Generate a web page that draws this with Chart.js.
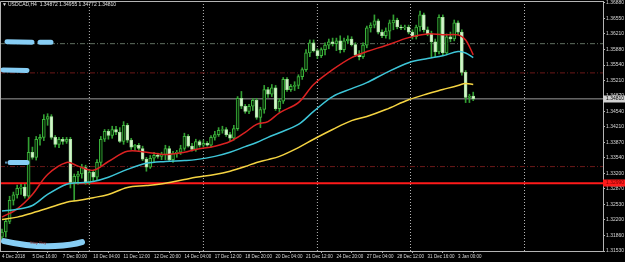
<!DOCTYPE html>
<html>
<head>
<meta charset="utf-8">
<script src="https://cdn.jsdelivr.net/npm/chart.js@4.4.1/dist/chart.umd.min.js"></script>
<style>
html, body { margin: 0; padding: 0; background: #000; }
#wrap { width: 625px; height: 262px; }
</style>
</head>
<body>
<div id="wrap"><canvas id="chart" width="625" height="262"></canvas></div>
<script>
// USDCAD H4
const symbolTitle = "USDCAD,H4  1.34872 1.34955 1.34772 1.34810";

const timeTickIdx = [0, 8, 16, 24, 32, 40, 48, 56, 64, 72, 80, 88, 96, 104, 112, 120];
const timeLabels = ["4 Dec 2018", "5 Dec 16:00", "7 Dec 00:00", "10 Dec 04:00", "11 Dec 12:00",
    "12 Dec 20:00", "14 Dec 04:00", "17 Dec 12:00", "18 Dec 20:00", "20 Dec 04:00", "21 Dec 12:00",
    "24 Dec 20:00", "27 Dec 04:00", "28 Dec 12:00", "31 Dec 16:00", "3 Jan 00:00"];

const priceTicks = [1.36880, 1.36550, 1.36210, 1.35880, 1.35540, 1.35210, 1.34870, 1.34540, 1.34210,
    1.33870, 1.33540, 1.33200, 1.32870, 1.32530, 1.32200, 1.31860, 1.31530];

const openP = [
    1.3183, 1.3194, 1.3217, 1.3262, 1.3274, 1.3288, 1.3291, 1.3271, 1.3366, 1.3355,
    1.3394, 1.3398, 1.3437, 1.3443, 1.3398, 1.3383, 1.3394, 1.3389, 1.3394, 1.3301,
    1.3314, 1.3319, 1.3333, 1.3301, 1.3323, 1.3312, 1.3344, 1.3394, 1.3411, 1.3402,
    1.3415, 1.3409, 1.3389, 1.3424, 1.3392, 1.3377, 1.3381, 1.3374, 1.3351, 1.3334,
    1.3353, 1.3359, 1.3357, 1.3361, 1.3374, 1.3350, 1.3364, 1.3366, 1.3374, 1.3400,
    1.3379, 1.3372, 1.3389, 1.3381, 1.3385, 1.3381, 1.3398, 1.3404, 1.3413, 1.3415,
    1.3404, 1.3396, 1.3417, 1.3482, 1.3465, 1.3454, 1.3465, 1.3478, 1.3441, 1.3458,
    1.3501, 1.3491, 1.3505, 1.3460, 1.3476, 1.3523, 1.3501, 1.3508, 1.3510, 1.3529,
    1.3544, 1.3580, 1.3602, 1.3585, 1.3574, 1.3587, 1.3597, 1.3604, 1.3600, 1.3606,
    1.3587, 1.3606, 1.3610, 1.3598, 1.3576, 1.3572, 1.3597, 1.3634, 1.3640, 1.3649,
    1.3625, 1.3617, 1.3627, 1.3645, 1.3651, 1.3636, 1.3634, 1.3636, 1.3625, 1.3615,
    1.3636, 1.3662, 1.3630, 1.3621, 1.3604, 1.3582, 1.3657, 1.3580, 1.3615, 1.3610,
    1.3645, 1.3625, 1.3538, 1.3484, 1.34872
];
const highP = [
    1.3200, 1.3222, 1.3271, 1.3280, 1.3295, 1.3297, 1.3297, 1.3398, 1.3377, 1.3400,
    1.3404, 1.3447, 1.3449, 1.3447, 1.3402, 1.3398, 1.3398, 1.3398, 1.3398, 1.3319,
    1.3325, 1.3340, 1.3338, 1.3327, 1.3327, 1.3350, 1.3400, 1.3415, 1.3415, 1.3422,
    1.3422, 1.3419, 1.3432, 1.3428, 1.3396, 1.3383, 1.3385, 1.3379, 1.3355, 1.3359,
    1.3366, 1.3364, 1.3366, 1.3381, 1.3379, 1.3368, 1.3370, 1.3381, 1.3407, 1.3404,
    1.3385, 1.3394, 1.3392, 1.3392, 1.3389, 1.3402, 1.3411, 1.3419, 1.3422, 1.3419,
    1.3409, 1.3424, 1.3486, 1.3497, 1.3469, 1.3469, 1.3482, 1.3482, 1.3463, 1.3510,
    1.3506, 1.3512, 1.3510, 1.3482, 1.3527, 1.3527, 1.3512, 1.3518, 1.3533, 1.3548,
    1.3587, 1.3608, 1.3608, 1.3589, 1.3591, 1.3602, 1.3610, 1.3612, 1.3612, 1.3617,
    1.3612, 1.3617, 1.3615, 1.3602, 1.3585, 1.3602, 1.3638, 1.3645, 1.3662, 1.3653,
    1.3630, 1.3634, 1.3651, 1.3662, 1.3655, 1.3640, 1.3640, 1.3640, 1.3630, 1.3640,
    1.3670, 1.3666, 1.3636, 1.3627, 1.3610, 1.3662, 1.3662, 1.3621, 1.3625, 1.3651,
    1.3649, 1.3630, 1.3542, 1.3491, 1.34955
];
const lowP = [
    1.3176, 1.3183, 1.3212, 1.3252, 1.3267, 1.3275, 1.3267, 1.3267, 1.3351, 1.3349,
    1.3381, 1.3391, 1.3424, 1.3394, 1.3377, 1.3376, 1.3383, 1.3385, 1.3289, 1.3261,
    1.3297, 1.3310, 1.3297, 1.3297, 1.3303, 1.3306, 1.3336, 1.3389, 1.3394, 1.3396,
    1.3404, 1.3387, 1.3383, 1.3387, 1.3372, 1.3370, 1.3370, 1.3348, 1.3325, 1.3331,
    1.3345, 1.3353, 1.3350, 1.3350, 1.3346, 1.3344, 1.3355, 1.3361, 1.3370, 1.3377,
    1.3368, 1.3368, 1.3377, 1.3377, 1.3379, 1.3377, 1.3392, 1.3400, 1.3407, 1.3400,
    1.3391, 1.3392, 1.3413, 1.3460, 1.3450, 1.3449, 1.3456, 1.3437, 1.3419, 1.3450,
    1.3484, 1.3486, 1.3456, 1.3452, 1.3471, 1.3497, 1.3497, 1.3499, 1.3503, 1.3523,
    1.3540, 1.3572, 1.3582, 1.3568, 1.3570, 1.3576, 1.3589, 1.3595, 1.3585, 1.3580,
    1.3582, 1.3600, 1.3595, 1.3572, 1.3565, 1.3568, 1.3591, 1.3625, 1.3634, 1.3621,
    1.3613, 1.3612, 1.3610, 1.3630, 1.3632, 1.3630, 1.3630, 1.3621, 1.3610, 1.3610,
    1.3627, 1.3625, 1.3617, 1.3572, 1.3572, 1.3578, 1.3574, 1.3576, 1.3604, 1.3606,
    1.3619, 1.3532, 1.3473, 1.3473, 1.34772
];
const closeP = [
    1.3194, 1.3217, 1.3262, 1.3274, 1.3288, 1.3291, 1.3271, 1.3366, 1.3355, 1.3394,
    1.3398, 1.3437, 1.3443, 1.3398, 1.3383, 1.3394, 1.3389, 1.3394, 1.3301, 1.3314,
    1.3319, 1.3333, 1.3301, 1.3323, 1.3312, 1.3344, 1.3394, 1.3411, 1.3402, 1.3415,
    1.3409, 1.3389, 1.3424, 1.3392, 1.3377, 1.3381, 1.3374, 1.3351, 1.3334, 1.3353,
    1.3359, 1.3357, 1.3361, 1.3374, 1.3350, 1.3364, 1.3366, 1.3374, 1.3400, 1.3379,
    1.3372, 1.3389, 1.3381, 1.3385, 1.3381, 1.3398, 1.3404, 1.3413, 1.3415, 1.3404,
    1.3396, 1.3417, 1.3482, 1.3465, 1.3454, 1.3465, 1.3478, 1.3441, 1.3458, 1.3501,
    1.3491, 1.3505, 1.3460, 1.3476, 1.3523, 1.3501, 1.3508, 1.3510, 1.3529, 1.3544,
    1.3580, 1.3602, 1.3585, 1.3574, 1.3587, 1.3597, 1.3604, 1.3600, 1.3606, 1.3587,
    1.3606, 1.3610, 1.3598, 1.3576, 1.3572, 1.3597, 1.3634, 1.3640, 1.3649, 1.3625,
    1.3617, 1.3627, 1.3645, 1.3651, 1.3636, 1.3634, 1.3636, 1.3625, 1.3615, 1.3636,
    1.3662, 1.3630, 1.3621, 1.3604, 1.3582, 1.3657, 1.3580, 1.3615, 1.3610, 1.3645,
    1.3625, 1.3538, 1.3484, 1.34872, 1.34810
];

// moving averages, sampled at these bars
const maIdx = [0, 4, 8, 12, 17, 20, 24, 28, 33, 38, 43, 48, 51, 56, 60, 64, 67, 70, 73, 78,
    82, 87, 92, 96, 101, 107, 112, 116, 120, 122, 124];
const maRed = [1.3226, 1.3244, 1.3275, 1.3318, 1.3344, 1.3336, 1.3327, 1.3346, 1.3368, 1.3366,
    1.3361, 1.3366, 1.3372, 1.3379, 1.3389, 1.3409, 1.3426, 1.3432, 1.3451, 1.3473,
    1.3512, 1.3544, 1.3570, 1.3583, 1.3596, 1.3613, 1.3621, 1.3619, 1.3619, 1.3608, 1.3576];
const maCyan = [1.3239, 1.3243, 1.3251, 1.3275, 1.3297, 1.3300, 1.3303, 1.3312, 1.3329, 1.3342,
    1.3346, 1.3348, 1.3350, 1.3357, 1.3366, 1.3378, 1.3387, 1.3398, 1.3408, 1.3426,
    1.3454, 1.3486, 1.3503, 1.3516, 1.3537, 1.3559, 1.3568, 1.3574, 1.3583, 1.3580, 1.3570];
const maYellow = [1.3221, 1.3226, 1.3235, 1.3245, 1.3258, 1.3262, 1.3268, 1.3275, 1.3290, 1.3294,
    1.3299, 1.3307, 1.3312, 1.3318, 1.3325, 1.3335, 1.3344, 1.3350, 1.3357, 1.3376,
    1.3394, 1.3415, 1.3434, 1.3443, 1.3458, 1.3479, 1.3492, 1.3501, 1.3510, 1.3514, 1.3512];

// horizontal lines on the chart
const levelPrices = [1.3600, 1.3537, 1.3481, 1.3335, 1.3299];
const bidPrice = 1.34810;
const redLinePrice = 1.3299;
// line labels that were painted over in the screenshot
const noteLevels = [1.3600, 1.3537, 1.3335, 1.3183];
// weekly separators (bar position)
const weekSepIdx = [23, 53, 83, 107.5, 137.5];

const Y_MIN = 1.3153, Y_MAX = 1.3692;
const X_MIN = -0.526, X_MAX = 158.15;
const FONT = "'Liberation Sans', 'DejaVu Sans', sans-serif";

const idx = closeP.map((_, i) => i);
const isBull = idx.map(i => closeP[i] >= openP[i]);

const levelStyles = [
    { color: "#5f6f5f", width: 1, dash: [5, 2, 1, 2] },
    { color: "#6a1818", width: 1, dash: [5, 2, 1, 2] },
    { color: "#9c9c9c", width: 1, dash: [] },
    { color: "#6a1818", width: 1, dash: [5, 2, 1, 2] },
    { color: "#ff1a1a", width: 2, dash: [] },
];

const datasets = [];

levelPrices.forEach((p, k) => {
    const st = levelStyles[k];
    datasets.push({
        type: "line",
        data: [{ x: X_MIN, y: p }, { x: X_MAX, y: p }],
        borderColor: st.color,
        borderWidth: st.width,
        borderDash: st.dash,
        pointRadius: 0,
        order: 6,
    });
});

weekSepIdx.forEach((s) => {
    datasets.push({
        type: "line",
        data: [{ x: s, y: Y_MIN }, { x: s, y: Y_MAX }],
        borderColor: "#b8b8b8",
        borderWidth: 1,
        borderDash: [1, 2],
        pointRadius: 0,
        order: 7,
    });
});

datasets.push({
    type: "bar",
    data: idx.map(i => ({ x: i, y: [lowP[i], highP[i]] })),
    backgroundColor: "#33a033",
    barThickness: 1,
    grouped: false,
    order: 4,
});

datasets.push({
    type: "bar",
    data: idx.map(i => ({ x: i, y: [openP[i], closeP[i]] })),
    backgroundColor: idx.map(i => isBull[i] ? "#062806" : "#d4f4cc"),
    borderColor: idx.map(i => isBull[i] ? "#3cb43c" : "#a8e0a0"),
    borderWidth: 1,
    borderSkipped: false,
    barThickness: 3,
    grouped: false,
    order: 3,
});

const maDefs = [
    { values: maYellow, color: "#f5d442" },
    { values: maCyan, color: "#3ec6d8" },
    { values: maRed, color: "#dc2222" },
];
maDefs.forEach((m) => {
    datasets.push({
        type: "line",
        data: maIdx.map((x, k) => ({ x, y: m.values[k] })),
        borderColor: m.color,
        borderWidth: 1.5,
        pointRadius: 0,
        tension: 0.35,
        order: 1,
    });
});

// black background, frame, title, scribbled labels, price boxes
const mtPlugin = {
    id: "mtLook",
    beforeDraw(chart) {
        const ctx = chart.ctx;
        ctx.save();
        ctx.fillStyle = "#000";
        ctx.fillRect(0, 0, chart.width, chart.height);
        ctx.restore();
    },
    afterDatasetsDraw(chart) {
        const ctx = chart.ctx;
        const ys = chart.scales.y;
        const a = chart.chartArea;
        ctx.save();

        // scribbled-out line labels
        ctx.strokeStyle = "#86cdf4";
        ctx.lineCap = "round";
        ctx.lineJoin = "round";
        const yN = noteLevels.map(p => ys.getPixelForValue(p));
        ctx.lineWidth = 5;
        ctx.beginPath();
        ctx.moveTo(7, yN[0] - 2); ctx.lineTo(32, yN[0] - 1.5);
        ctx.moveTo(40, yN[0] - 1.5); ctx.lineTo(51, yN[0] - 1.5);
        ctx.moveTo(3, yN[1] - 3); ctx.lineTo(27, yN[1] - 2.5);
        ctx.moveTo(10, yN[2] - 4); ctx.lineTo(27, yN[2] - 4);
        ctx.stroke();
        ctx.lineWidth = 6;
        ctx.beginPath();
        ctx.moveTo(4, yN[3] + 4);
        ctx.quadraticCurveTo(30, yN[3] + 10, 55, yN[3] + 9);
        ctx.quadraticCurveTo(72, yN[3] + 8, 82, yN[3] + 5);
        ctx.stroke();
        ctx.fillStyle = "#5a8fb0";
        ctx.fillRect(5, yN[2] - 5, 2, 2);
        ctx.fillStyle = "#8b2a2a";
        ctx.font = `4px ${FONT}`;
        ctx.textBaseline = "middle";
        ctx.fillText("Stop Buy", 30, yN[3] + 6);

        // frame
        ctx.strokeStyle = "#b4b4b4";
        ctx.lineWidth = 1;
        ctx.beginPath();
        ctx.moveTo(a.left + 0.5, a.bottom);
        ctx.lineTo(a.left + 0.5, a.top + 0.5);
        ctx.lineTo(a.right, a.top + 0.5);
        ctx.stroke();

        // title
        ctx.fillStyle = "#e0e0e0";
        ctx.font = `5px ${FONT}`;
        ctx.textBaseline = "middle";
        ctx.fillText("\u25BC", 2, 5);
        ctx.fillText(symbolTitle, 8, 5);

        // price boxes on the axis
        const drawBox = (price, fill, textColor) => {
            const y = Math.round(ys.getPixelForValue(price));
            ctx.fillStyle = fill;
            ctx.fillRect(a.right, y - 3.5, chart.width - a.right, 7);
            ctx.fillStyle = textColor;
            ctx.fillText(price.toFixed(5), a.right + 3, y);
        };
        drawBox(bidPrice, "#d2d2d2", "#000");
        drawBox(redLinePrice, "#ff1a1a", "#7a0000");
        ctx.restore();
    },
};

new Chart(document.getElementById("chart"), {
    type: "bar",
    data: { datasets },
    options: {
        responsive: false,
        maintainAspectRatio: false,
        devicePixelRatio: 1,
        animation: false,
        events: [],
        layout: { padding: { top: 1, left: 0, right: 0, bottom: 0 } },
        plugins: { legend: { display: false }, tooltip: { enabled: false } },
        scales: {
            x: {
                type: "linear",
                min: X_MIN,
                max: X_MAX,
                offset: false,
                grid: { display: true, drawOnChartArea: false, drawTicks: true, tickLength: 2, color: "#b4b4b4" },
                border: { display: true, color: "#b4b4b4" },
                afterBuildTicks: (s) => { s.ticks = timeTickIdx.map(v => ({ value: v })); },
                afterFit: (s) => { s.height = 11; s.paddingLeft = 0; s.paddingRight = 0; },
                ticks: {
                    autoSkip: false,
                    maxRotation: 0,
                    minRotation: 0,
                    align: "start",
                    padding: 1,
                    color: "#d8d8d8",
                    font: { family: FONT, size: 4.5 },
                    callback: (v, i) => timeLabels[i],
                },
            },
            y: {
                type: "linear",
                position: "right",
                min: Y_MIN,
                max: Y_MAX,
                grid: { display: true, drawOnChartArea: false, drawTicks: true, tickLength: 2, color: "#b4b4b4" },
                border: { display: true, color: "#b4b4b4" },
                afterBuildTicks: (s) => { s.ticks = priceTicks.map(v => ({ value: v })); },
                afterFit: (s) => { s.width = 22; s.paddingTop = 0; s.paddingBottom = 0; },
                ticks: {
                    autoSkip: false,
                    padding: 1,
                    color: "#d8d8d8",
                    font: { family: FONT, size: 5 },
                    callback: (v) => Number(v).toFixed(5),
                },
            },
        },
    },
    plugins: [mtPlugin],
});
</script>
</body>
</html>
